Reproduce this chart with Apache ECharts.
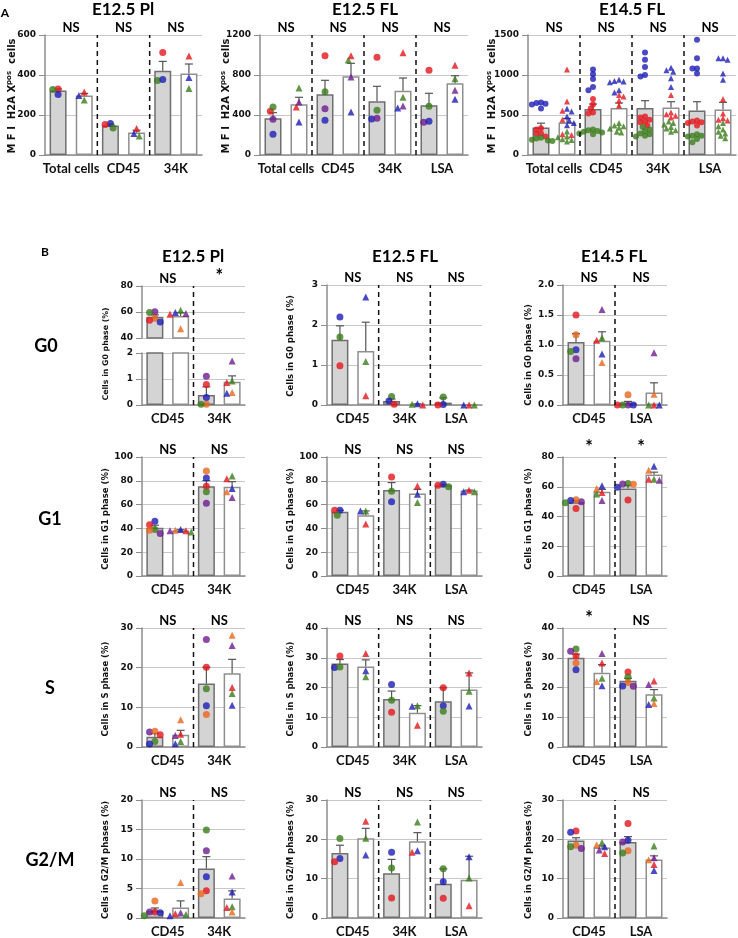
<!DOCTYPE html>
<html><head><meta charset="utf-8">
<script src="https://cdn.jsdelivr.net/npm/echarts@6/dist/echarts.min.js"></script>
<style>html,body{margin:0;padding:0;background:#fff}#c{width:738px;height:938px}</style>
</head><body><div id="c"></div><script>
// ================= DATA =================
// sample keys: r=red, b=blue, g=green, p=purple, o=orange
// each group: [gray bar, white bar]
const A1_cats = ['Total cells','CD45','34K'];
const A1_mean = [[322,297],[148,112],[421,408]];
const A1_sem  = [[8,11],[6,12],[47,47]];
const A1_sig  = ['NS','NS','NS'];
const A1_pts  = [
  [{r:[330],b:[302],g:[327]}, {r:[315],b:[297],g:[275]}],
  [{b:[158],r:[152],g:[135]}, {r:[132],b:[108],g:[95]}],
  [{r:[513],g:[373],b:[377]}, {r:[495],b:[387],g:[333]}]
];

const A2_cats = ['Total cells','CD45','34K','LSA'];
const A2_mean = [[367,507],[607,787],[537,643],[497,717]];
const A2_sem  = [[56,70],[140,130],[150,127],[120,76]];
const A2_sig  = ['NS','NS','NS','NS'];
const A2_pts  = [
  [{r:[437],g:[480],p:[357],b:[207]}, {g:[670],p:[530],r:[480],b:[330]}],
  [{r:[993],g:[633],p:[463],b:[347]}, {g:[950],r:[993],p:[780],b:[430]}],
  [{r:[977],g:[447],b:[360],p:[367]}, {r:[1023],g:[577],b:[470],p:[490]}],
  [{r:[847],g:[487],p:[327],b:[337]}, {r:[897],g:[763],p:[647],b:[557]}]
];

const A3_cats = ['Total cells','CD45','34K','LSA'];
const A3_mean = [[344,406],[574,587],[587,595],[557,570]];
const A3_sem  = [[54,51],[63,63],[92,71],[109,88]];
const A3_sig  = ['NS','NS','NS','NS'];
const A3_pts  = [
  [{b:[640,655,650,580,630], r:[265,335,320,230,270], g:[190,170,205,180,215,175]},
   {b:[578,545,482,431,400,373], r:[1068,670,553,440,260,250], g:[230,197,222,293,168,188]}],
  [{b:[1070,1010,950,850,810], r:[700,630,580,530,520], g:[310,290,270,260,280,300,320]},
   {b:[940,925,920,910,810,780], r:[750,730,680,620], g:[400,370,360,340,290,280,330]}],
  [{b:[1280,1190,1100,1000,980], r:[480,470,440,420,410,370], g:[350,320,300,270,260,240,230]},
   {b:[1090,1060,1040,960,850], r:[750,530,510,490,470], g:[420,400,380,350,330,310,290]}],
  [{b:[1440,1210,1080,1080,1020], r:[430,420,410,400,370], g:[260,240,240,230,200,160]},
   {b:[1210,1210,1190,1020,940], r:[700,520,460,440,430], g:[400,360,320,290,270,240,210]}]
];

const B_Pl_cats   = ['CD45','34K'];
const B_FL12_cats = ['CD45','34K','LSA'];
const B_FL14_cats = ['CD45','LSA'];

const G0_Pl_mean = [[56.3,57.0],[0.38,0.89]];
const G0_Pl_sem  = [[1.4,2.6],[0.32,0.23]];
const G0_Pl_sig  = ['NS','*'];
const G0_Pl_pts  = [
  [{p:[60.1],g:[59.6],o:[55.2],r:[53.7],b:[52.4]}, {g:[61.4],r:[58.3],p:[58.8],b:[59.6],o:[47.2]}],
  [{p:[1.11],r:[0.79],b:[0.29],o:[0.03],g:[0.03]}, {p:[1.69],g:[0.92],r:[0.87],o:[0.48],b:[0.45]}]
];
const G0_FL12_mean = [[1.63,1.35],[0.10,0.02],[0.06,0.0]];
const G0_FL12_sem  = [[0.35,0.72],[0.05,0.01],[0.12,0]];
const G0_FL12_sig  = ['NS','NS','NS'];
const G0_FL12_pts  = [
  [{b:[2.2],g:[1.7],r:[0.98]}, {b:[2.7],g:[1.09],r:[0.23]}],
  [{g:[0.21],b:[0.1],r:[0.02]}, {b:[0.03],r:[0],g:[0.02]}],
  [{g:[0.2],b:[0.01],r:[0]}, {r:[0],b:[0],g:[0]}]
];
const G0_FL14_mean = [[1.05,1.07],[0.03,0.21]];
const G0_FL14_sem  = [[0.14,0.15],[0.03,0.16]];
const G0_FL14_sig  = ['NS','NS'];
const G0_FL14_pts  = [
  [{r:[1.5],o:[1.17],b:[0.92],g:[0.89],p:[0.77]}, {p:[1.59],g:[1.12],r:[1.08],b:[0.85],o:[0.71]}],
  [{o:[0.17],p:[0],g:[0],b:[0],r:[0]}, {p:[0.87],o:[0.18],r:[0],g:[0],b:[0]}]
];

const G1_Pl_mean = [[40.5,38.3],[75.4,75.1]];
const G1_Pl_sem  = [[2.2,0.6],[4.8,4.2]];
const G1_Pl_sig  = ['NS','NS'];
const G1_Pl_pts  = [
  [{b:[46.1],r:[43],g:[39.1],o:[38.5],p:[35.8]}, {b:[39.1],g:[36.9],r:[38],o:[38.5],p:[38]}],
  [{b:[82.4],o:[88.3],r:[75.4],g:[70.7],p:[61.2]}, {g:[84.1],r:[81.8],b:[73.5],o:[70.7],p:[65.9]}]
];
const G1_FL12_mean = [[53.9,51.1],[72.3,69.3],[76.3,71.8]];
const G1_FL12_sem  = [[1.3,3.6],[6.2,3.5],[0.7,0.4]];
const G1_FL12_sig  = ['NS','NS','NS'];
const G1_FL12_pts  = [
  [{b:[55.3],r:[55.3],g:[51.1]}, {g:[54.7],b:[54.7],r:[43.6]}],
  [{r:[83.2],g:[71.2],b:[62.3]}, {r:[75.7],b:[68.7],g:[61.7]}],
  [{b:[77.1],g:[74.9],r:[76.3]}, {r:[72.1],b:[70.9],g:[70.9]}]
];
const G1_FL14_mean = [[49.6,56.7],[58.9,68.2]];
const G1_FL14_sem  = [[1.0,1.5],[2.0,1.6]];
const G1_FL14_sig  = ['*','*'];
const G1_FL14_pts  = [
  [{p:[50],o:[51.3],b:[50.7],g:[49.3],r:[45.3]}, {b:[60.7],o:[58.9],r:[56.2],g:[55.1],p:[50.7]}],
  [{g:[62.2],o:[61.6],p:[61.8],b:[59.6],r:[51.1]}, {b:[73.8],o:[71.1],g:[65.1],p:[64.4],r:[65.1]}]
];

const S_Pl_mean = [[2.6,3.1],[16.0,18.6]];
const S_Pl_sem  = [[0.8,1.1],[4.1,3.5]];
const S_Pl_sig  = ['NS','NS'];
const S_Pl_pts  = [
  [{p:[3.76],o:[4.0],r:[3.1],g:[1.4],b:[0.75]}, {o:[6.85],r:[3.2],p:[2.9],g:[1.4],b:[0.8]}],
  [{p:[27.1],r:[20.1],g:[14.7],b:[10.4],o:[8.2]}, {o:[28.2],p:[25.6],r:[15],g:[13.5],b:[10.5]}]
];
const S_FL12_mean = [[28.1,27.1],[16.1,11.5],[15.4,19.3]];
const S_FL12_sem  = [[1.3,2.2],[2.7,2.4],[4.5,5.6]];
const S_FL12_sig  = ['NS','NS','NS'];
const S_FL12_pts  = [
  [{r:[30.6],b:[26.7],g:[26.9]}, {r:[31.4],b:[25.6],g:[23.6]}],
  [{b:[21],g:[15.7],r:[11.7]}, {g:[13.9],b:[13.7],r:[7.3]}],
  [{r:[19.9],b:[13.9],g:[12]}, {r:[24.9],g:[18.7],b:[13.8]}]
];
const S_FL14_mean = [[30.0,25.0],[22.3,17.7]];
const S_FL14_sem  = [[1.2,2.7],[0.8,1.6]];
const S_FL14_sig  = ['*','NS'];
const S_FL14_pts  = [
  [{g:[32.9],p:[32.2],r:[30.6],o:[28.2],b:[26]}, {p:[31.4],r:[28.2],g:[23.1],o:[22],b:[20.6]}],
  [{r:[25.2],g:[23.5],o:[21.7],b:[20.5],p:[20.4]}, {r:[22.2],p:[21],g:[16.5],o:[14.6],b:[14.3]}]
];

const G2M_Pl_mean = [[1.2,1.8],[8.4,3.3]];
const G2M_Pl_sem  = [[0.5,1.1],[2.0,1.3]];
const G2M_Pl_sig  = ['NS','NS'];
const G2M_Pl_pts  = [
  [{o:[2.9],r:[1.0],b:[0.9],p:[1.0],g:[0.4]}, {o:[6.0],p:[0.9],r:[0.7],g:[0.6],b:[0.4]}],
  [{g:[14.9],p:[11.4],b:[7],r:[4.6],o:[4.1]}, {p:[7.1],b:[4.4],g:[1.9],r:[1.8],o:[1.0]}]
];
const G2M_FL12_mean = [[16.5,20.3],[11.4,19.5],[8.7,9.7]];
const G2M_FL12_sem  = [[2.0,2.5],[3.5,2.2],[3.8,6.0]];
const G2M_FL12_sig  = ['NS','NS','NS'];
const G2M_FL12_pts  = [
  [{g:[20.2],b:[15.1],r:[14.3]}, {r:[24.6],g:[20.3],b:[16]}],
  [{b:[16.7],g:[12.7],r:[5.1]}, {g:[24.4],r:[16.7],b:[17.1]}],
  [{g:[12.5],b:[9.2],r:[5]}, {b:[15.6],g:[10.2],r:[3.1]}]
];
const G2M_FL14_mean = [[19.7,17.9],[19.3,14.9]];
const G2M_FL14_sem  = [[0.7,0.4],[1.4,0.9]];
const G2M_FL14_sig  = ['NS','NS'];
const G2M_FL14_pts  = [
  [{r:[22.1],b:[21.8],o:[18.5],g:[18.1],p:[17.7]}, {g:[19.2],o:[18.6],b:[18.1],p:[17.3],r:[16.4]}],
  [{r:[24],b:[19.75],p:[19.3],o:[17.1],g:[16.5]}, {g:[18.3],p:[15.3],o:[14.8],r:[13.6],b:[12.1]}]
];

// ================= STYLE =================
const COLORS = {r:'#e3151b', b:'#1d1db5', g:'#3b7d1c', p:'#6b1b8f', o:'#e8671d'};
const AX = '#8c8c8c';
const GRAY_BAR = {color:'#d4d4d4', borderColor:'#6f6f6f', borderWidth:1.5};
const WHITE_BAR = {color:'#ffffff', borderColor:'#8f8f8f', borderWidth:1.5};
const TXT = '#111';

const option = {animation:false, grid:[], xAxis:[], yAxis:[], series:[], graphic:[]};

// deterministic beeswarm placement of points (no randomness)
function swarm(vals, pxU, d) {
  const order = vals.map((v,i)=>i).sort((a,b)=>vals[b]-vals[a]);
  const placed = []; const out = new Array(vals.length).fill(0);
  const minD = d*0.72, step = d*0.38;
  for (const i of order) {
    const y = vals[i]*pxU;
    let best = 0;
    for (let k=0;k<80;k++) {
      const off = (k%2 ? -1 : 1) * Math.ceil(k/2) * step;
      if (placed.every(p => Math.hypot(p.x-off, p.y-y) >= minD)) { best = off; break; }
    }
    placed.push({x:best, y}); out[i] = best;
  }
  return out;
}

function addChart(c) {
  const gi = option.grid.length;
  const [l,t,w,h] = c.rect;
  option.grid.push({left:l, top:t, width:w, height:h});
  const n = c.cats.length;
  const slots = []; c.cats.forEach(k => slots.push(k+'_g', k+'_w'));
  const xi = option.xAxis.length;
  option.xAxis.push({type:'category', gridIndex:gi, data:slots, position:'bottom', show:false});
  option.xAxis.push({type:'category', gridIndex:gi, data:c.cats, position:'bottom',
    axisLine:{show:c.showBottomLine!==false, onZero:false, lineStyle:{color:AX, width:1.5}},
    axisTick:{show:false}, splitLine:{show:false},
    axisLabel:{show:c.showCats!==false, interval:0, hideOverlap:false, margin:7, color:TXT, fontFamily:'Lato', fontWeight:'bold', fontSize:13}});
  option.xAxis.push({type:'category', gridIndex:gi, data:c.sig, position:'top',
    axisLine:{show:false}, axisTick:{show:false}, splitLine:{show:false},
    axisLabel:{show:c.showSig!==false, interval:0, margin:1, color:'#000', fontFamily:'Lato', fontWeight:'bold', fontSize:13,
      formatter: s => s === '*' ? '{st|*}' : s, rich:{st:{fontSize:18, fontFamily:'Lato', fontWeight:'bold', color:'#000', padding:[0,0,0,0]}}}});
  option.xAxis.push({type:'value', gridIndex:gi, min:0, max:2*n, show:false});
  const yi = option.yAxis.length;
  const [ymin,ymax,yint] = c.y;
  option.yAxis.push({type:'value', gridIndex:gi, min:ymin, max:ymax, interval:yint,
    axisLine:{show:true, lineStyle:{color:AX, width:1.5}},
    axisTick:{show:true, length:6, lineStyle:{color:AX, width:1}},
    axisLabel:{margin:9, color:TXT, fontFamily:'DejaVu Sans', fontWeight:'bold', fontSize:9,
      formatter: c.fmt || (v => String(v))},
    splitLine:{show:true, lineStyle:{color:'#c8c8c8', width:1}}});

  const barData = [], errData = [];
  for (let g=0; g<n; g++) for (let b=0; b<2; b++) {
    barData.push({value:c.mean[g][b], itemStyle: b ? WHITE_BAR : GRAY_BAR});
    if (c.sem[g][b] > 0) errData.push([2*g+b+0.5, c.mean[g][b], c.sem[g][b]]);
  }
  option.series.push({type:'bar', xAxisIndex:xi, yAxisIndex:yi, barWidth:17, data:barData, clip:true, silent:true, z:2});
  option.series.push({type:'custom', xAxisIndex:xi+3, yAxisIndex:yi, clip:true, silent:true, z:3, data:errData,
    renderItem:(p, api) => {
      const a = api.coord([api.value(0), api.value(1)]);
      const e = api.coord([api.value(0), api.value(1)+api.value(2)]);
      const st = {stroke:'#555', lineWidth:1.2};
      return {type:'group', children:[
        {type:'line', shape:{x1:a[0], y1:a[1], x2:e[0], y2:e[1]}, style:st},
        {type:'line', shape:{x1:e[0]-4, y1:e[1], x2:e[0]+4, y2:e[1]}, style:st}]};
    }});

  const size = c.sym || 7;
  const slotPx = w/(2*n), pxU = h/(ymax-ymin);
  const sc = [];
  for (let g=0; g<n; g++) for (let b=0; b<2; b++) {
    const obj = c.pts[g][b]; const list = [];
    Object.keys(obj).forEach(k => obj[k].forEach(v => list.push([k, v])));
    const dx = swarm(list.map(q => q[1]), pxU, size);
    list.forEach((q,i) => sc.push({value:[2*g+b+0.5+dx[i]/slotPx, q[1]], symbol: b ? 'triangle' : 'circle',
      itemStyle:{color:COLORS[q[0]]}}));
  }
  option.series.push({type:'scatter', xAxisIndex:xi+3, yAxisIndex:yi, symbolSize:size, data:sc, clip:true, silent:true, z:4});

  if (c.showSep !== false && n > 1) {
    const top = c.sepMax !== undefined ? c.sepMax : ymax;
    const sd = []; for (let g=1; g<n; g++) sd.push([2*g, ymin, top]);
    option.series.push({type:'custom', xAxisIndex:xi+3, yAxisIndex:yi, clip:false, silent:true, z:5, data:sd,
      renderItem:(p, api) => {
        const a = api.coord([api.value(0), api.value(1)]);
        const e = api.coord([api.value(0), api.value(2)]);
        return {type:'line', shape:{x1:a[0], y1:a[1], x2:e[0], y2:e[1]}, style:{stroke:'#111', lineWidth:1.5, lineDash:[5,4]}};
      }});
  }
}

function text(x, y, s, size) {
  option.graphic.push({type:'text', x, y, silent:true,
    style:{text:s, fontFamily:'Lato', fontWeight:'bold', fontSize:size, fill:'#000',
      align:'center', verticalAlign:'middle', textAlign:'center', textVerticalAlign:'middle'}});
}
function yname(x, y, s, size) {
  option.graphic.push({type:'text', x, y, rotation:Math.PI/2, silent:true,
    style:{text:s, fontFamily:'DejaVu Sans', fontWeight:'bold', fontSize:size, fill:TXT,
      align:'center', verticalAlign:'middle', textAlign:'center', textVerticalAlign:'middle'}});
}
function ynameA(x, y) {
  option.graphic.push({type:'text', x, y, rotation:Math.PI/2, silent:true,
    style:{text:'{a|M F I  H2A X}{s|pos}{a|  cells}', fill:TXT, align:'center', verticalAlign:'middle',
      textAlign:'center', textVerticalAlign:'middle',
      rich:{a:{fontFamily:'DejaVu Sans', fontWeight:'bold', fontSize:10, lineHeight:13, fill:TXT},
            s:{fontFamily:'DejaVu Sans', fontWeight:'bold', fontSize:7, lineHeight:13, verticalAlign:'top', fill:TXT}}}});
}

// ================= PANEL A =================
addChart({rect:[45,35,157,120], cats:A1_cats, mean:A1_mean, sem:A1_sem, sig:A1_sig, pts:A1_pts, y:[0,600,200]});
addChart({rect:[260,35,208,120], cats:A2_cats, mean:A2_mean, sem:A2_sem, sig:A2_sig, pts:A2_pts, y:[0,1200,400]});
addChart({rect:[528,35,208,120], cats:A3_cats, mean:A3_mean, sem:A3_sem, sig:A3_sig, pts:A3_pts, y:[0,1500,500], sym:6});
text(5, 13, 'A', 12);
text(123, 10, 'E12.5 Pl', 17);
text(365, 10, 'E12.5 FL', 17);
text(632, 10, 'E14.5 FL', 17);
ynameA(12, 96); ynameA(226, 96); ynameA(492, 96);

// ================= PANEL B =================
const COL = {Pl:[142,103], FL12:[327,155], FL14:[563,104]};
const ROW = {G0:[285,120], G1:[457,119], S:[628,119], G2M:[800,120]};
const f1 = v => v.toFixed(1);

// G0 (E12.5 Pl has broken axis)
addChart({rect:[142,286,103,52], cats:B_Pl_cats, mean:G0_Pl_mean, sem:G0_Pl_sem, sig:G0_Pl_sig, pts:G0_Pl_pts,
  y:[40,80,20], showCats:false, showBottomLine:false, showSep:false});
addChart({rect:[142,353,103,52], cats:B_Pl_cats, mean:G0_Pl_mean, sem:G0_Pl_sem, sig:G0_Pl_sig, pts:G0_Pl_pts,
  y:[0,2,1], showSig:false, sepMax:4.58});
addChart({rect:[COL.FL12[0],ROW.G0[0],COL.FL12[1],ROW.G0[1]], cats:B_FL12_cats, mean:G0_FL12_mean, sem:G0_FL12_sem, sig:G0_FL12_sig, pts:G0_FL12_pts, y:[0,3,1]});
addChart({rect:[COL.FL14[0],ROW.G0[0],COL.FL14[1],ROW.G0[1]], cats:B_FL14_cats, mean:G0_FL14_mean, sem:G0_FL14_sem, sig:G0_FL14_sig, pts:G0_FL14_pts, y:[0,2,0.5], fmt:f1});
// G1
addChart({rect:[COL.Pl[0],ROW.G1[0],COL.Pl[1],ROW.G1[1]], cats:B_Pl_cats, mean:G1_Pl_mean, sem:G1_Pl_sem, sig:G1_Pl_sig, pts:G1_Pl_pts, y:[0,100,20]});
addChart({rect:[COL.FL12[0],ROW.G1[0],COL.FL12[1],ROW.G1[1]], cats:B_FL12_cats, mean:G1_FL12_mean, sem:G1_FL12_sem, sig:G1_FL12_sig, pts:G1_FL12_pts, y:[0,100,20]});
addChart({rect:[COL.FL14[0],ROW.G1[0],COL.FL14[1],ROW.G1[1]], cats:B_FL14_cats, mean:G1_FL14_mean, sem:G1_FL14_sem, sig:G1_FL14_sig, pts:G1_FL14_pts, y:[0,80,20]});
// S
addChart({rect:[COL.Pl[0],ROW.S[0],COL.Pl[1],ROW.S[1]], cats:B_Pl_cats, mean:S_Pl_mean, sem:S_Pl_sem, sig:S_Pl_sig, pts:S_Pl_pts, y:[0,30,10]});
addChart({rect:[COL.FL12[0],ROW.S[0],COL.FL12[1],ROW.S[1]], cats:B_FL12_cats, mean:S_FL12_mean, sem:S_FL12_sem, sig:S_FL12_sig, pts:S_FL12_pts, y:[0,40,10]});
addChart({rect:[COL.FL14[0],ROW.S[0],COL.FL14[1],ROW.S[1]], cats:B_FL14_cats, mean:S_FL14_mean, sem:S_FL14_sem, sig:S_FL14_sig, pts:S_FL14_pts, y:[0,40,10]});
// G2/M
addChart({rect:[COL.Pl[0],ROW.G2M[0],COL.Pl[1],ROW.G2M[1]], cats:B_Pl_cats, mean:G2M_Pl_mean, sem:G2M_Pl_sem, sig:G2M_Pl_sig, pts:G2M_Pl_pts, y:[0,20,5]});
addChart({rect:[COL.FL12[0],ROW.G2M[0],COL.FL12[1],ROW.G2M[1]], cats:B_FL12_cats, mean:G2M_FL12_mean, sem:G2M_FL12_sem, sig:G2M_FL12_sig, pts:G2M_FL12_pts, y:[0,30,10]});
addChart({rect:[COL.FL14[0],ROW.G2M[0],COL.FL14[1],ROW.G2M[1]], cats:B_FL14_cats, mean:G2M_FL14_mean, sem:G2M_FL14_sem, sig:G2M_FL14_sig, pts:G2M_FL14_pts, y:[0,30,10]});

text(45, 252, 'B', 12);
text(193, 257, 'E12.5 Pl', 17);
text(405, 257, 'E12.5 FL', 17);
text(614, 257, 'E14.5 FL', 17);
text(46, 346, 'G0', 18);
text(50, 519, 'G1', 18);
text(50, 688, 'S', 18);
text(50, 860, 'G2/M', 18);

yname(106, 354, 'Cells in G0 phase (%)', 7.8);
yname(291, 346, 'Cells in G0 phase (%)', 8.5);
yname(529, 355, 'Cells in G0 phase (%)', 8.5);
[['G1',519],['S',689],['G2/M',860]].forEach(([ph, yc]) => {
  const s = ph === 'G2/M' ? 'Cells in G2/M phases (%)' : 'Cells in ' + ph + ' phase (%)';
  yname(106, yc, s, 8.5); yname(291, yc, s, 8.5); yname(529, yc, s, 8.5);
});

const chart = echarts.init(document.getElementById('c'), null, {renderer:'canvas'});
chart.setOption(option);
</script></body></html>
